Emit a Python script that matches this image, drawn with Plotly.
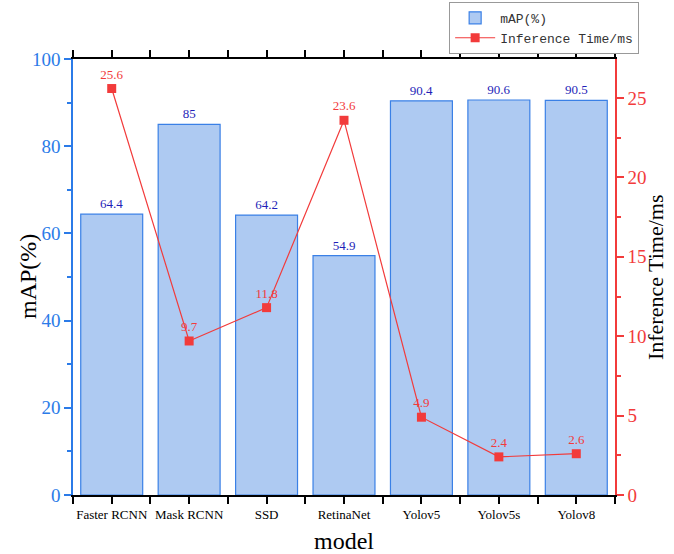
import plotly.graph_objects as go

models = ["Faster RCNN", "Mask RCNN", "SSD", "RetinaNet", "Yolov5", "Yolov5s", "Yolov8"]
map_values = [64.4, 85, 64.2, 54.9, 90.4, 90.6, 90.5]
time_values = [25.6, 9.7, 11.8, 23.6, 4.9, 2.4, 2.6]
map_labels = ["64.4", "85", "64.2", "54.9", "90.4", "90.6", "90.5"]
time_labels = ["25.6", "9.7", "11.8", "23.6", "4.9", "2.4", "2.6"]

xpos = list(range(len(models)))

BLUE_AX = "#2B7BE8"
RED = "#F23B3B"
SERIF = "Liberation Serif, Times New Roman, serif"

fig = go.Figure()
fig.add_trace(go.Bar(
    x=xpos, y=map_values, name="mAP(%)",
    marker=dict(color="#AECAF2", line=dict(color="#3A80E6", width=1.2)),
    width=0.8,
    text=map_labels, textposition="outside", cliponaxis=False,
    textfont=dict(family=SERIF, size=13, color="#1F1FB8"),
))
fig.add_trace(go.Scatter(
    x=xpos, y=time_values, name="Inference Time/ms", yaxis="y2",
    mode="lines+markers+text",
    line=dict(color=RED, width=1.2),
    marker=dict(symbol="square", size=9, color=RED),
    text=time_labels, textposition="top center", cliponaxis=False,
    textfont=dict(family=SERIF, size=13, color=RED),
))

fig.update_layout(
    width=674, height=554,
    margin=dict(l=73, r=59, t=59, b=59, autoexpand=False),
    plot_bgcolor="white", paper_bgcolor="white",
    showlegend=True,
    legend=dict(x=0.694, y=1.131, xanchor="left", yanchor="top",
                bordercolor="#999999", borderwidth=1, bgcolor="white",
                font=dict(family="Liberation Mono, monospace", size=13, color="#333333"),
                tracegroupgap=0, itemwidth=40),
    xaxis=dict(
        range=[-0.5, 6.5], tickmode="array", tickvals=xpos, ticktext=models,
        showgrid=False, zeroline=False, automargin=False,
        showline=True, linecolor="black", linewidth=1.5, mirror="allticks",
        ticks="outside", ticklen=7, tickwidth=1.5, tickcolor="black",
        minor=dict(tickmode="linear", tick0=-0.5, dtick=1, ticks="outside", ticklen=4, tickwidth=1.5, tickcolor="black"),
        tickfont=dict(family=SERIF, size=13, color="black"),
        title=dict(text="model", font=dict(family=SERIF, size=24, color="black")),
    ),
    yaxis=dict(
        range=[0, 100], dtick=20, showgrid=False, zeroline=False, automargin=False,
        showline=True, linecolor=BLUE_AX, linewidth=1.5,
        ticks="outside", ticklen=7, tickwidth=1.5, tickcolor=BLUE_AX,
        minor=dict(dtick=10, ticks="outside", ticklen=4, tickwidth=1.5, tickcolor=BLUE_AX),
        tickfont=dict(family=SERIF, size=19, color=BLUE_AX),
    ),
    yaxis2=dict(
        range=[0, 27.46], dtick=5, overlaying="y", side="right",
        showgrid=False, zeroline=False, automargin=False,
        showline=True, linecolor=RED, linewidth=1.5,
        ticks="outside", ticklen=7, tickwidth=1.5, tickcolor=RED,
        minor=dict(dtick=2.5, ticks="outside", ticklen=4, tickwidth=1.5, tickcolor=RED),
        tickfont=dict(family=SERIF, size=19, color=RED),
    ),
    annotations=[
        dict(text="mAP(%)", xref="paper", yref="paper", x=-0.083, y=0.5,
             xanchor="center", yanchor="middle", textangle=-90, showarrow=False,
             font=dict(family=SERIF, size=24, color="black")),
        dict(text="Inference Time/ms", xref="paper", yref="paper", x=1.074, y=0.5,
             xanchor="center", yanchor="middle", textangle=-90, showarrow=False,
             font=dict(family=SERIF, size=22, color="black")),
    ],
)

fig.write_html("out.html")
